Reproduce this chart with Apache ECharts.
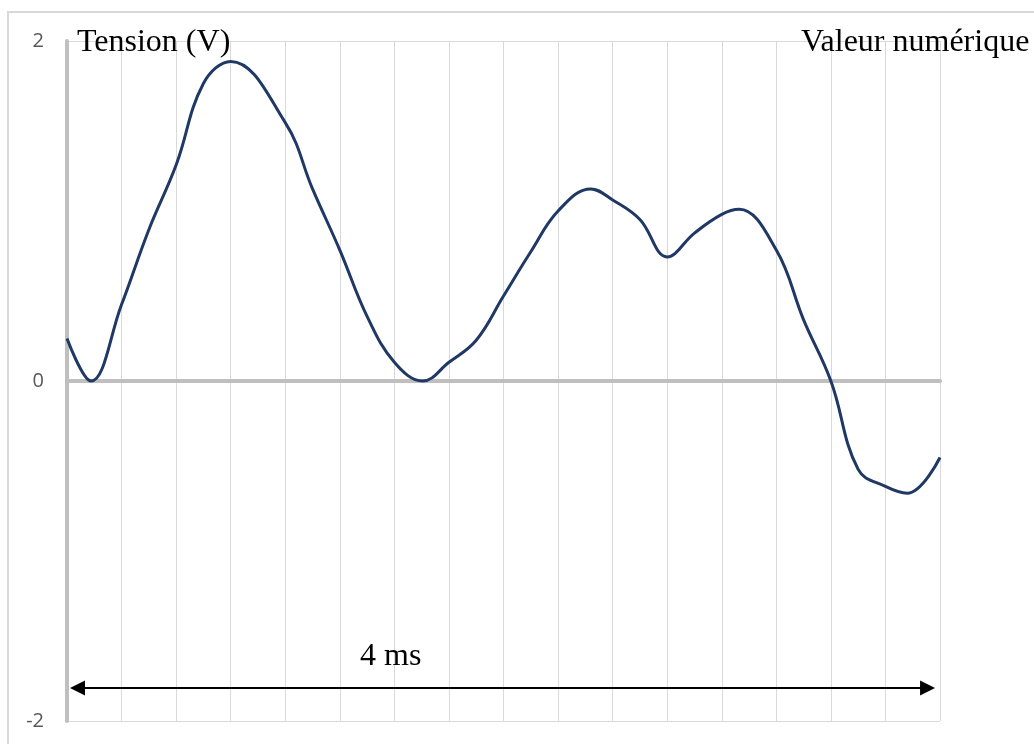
<!DOCTYPE html>
<html>
<head>
<meta charset="utf-8">
<script src="https://cdn.jsdelivr.net/npm/echarts@6/dist/echarts.min.js"></script>
<style>
html,body{margin:0;padding:0;background:#fff;}
#chart{width:1034px;height:744px;}
</style>
</head>
<body>
<div id="chart"></div>
<script>
// time in ms
const times = [0, 0.11, 0.25, 0.375, 0.5, 0.625, 0.75, 1.0, 1.125, 1.25, 1.375, 1.5, 1.63, 1.75, 1.875, 2.0, 2.125, 2.25, 2.4, 2.5, 2.625, 2.75, 2.875, 3.0, 3.08, 3.25, 3.375, 3.5, 3.625, 3.75, 3.85, 4.0];
// voltage in V
const values = [0.25, 0.0, 0.45, 0.89, 1.27, 1.75, 1.88, 1.52, 1.13, 0.77, 0.38, 0.11, 0.0, 0.11, 0.24, 0.50, 0.76, 1.0, 1.13, 1.065, 0.95, 0.73, 0.87, 0.98, 1.01, 0.77, 0.36, 0.0, -0.52, -0.62, -0.66, -0.45];
const yTicks = [-2, 0, 2];
const yTitle = 'Tension (V)';
const xTitle = 'Valeur numérique';
const spanLabel = '4 ms';
// duration arrow (data units)
const arrowStart = [0.048, -1.806];
const arrowEnd = [3.943, -1.806];

const chart = echarts.init(document.getElementById('chart'));
const serif = '"Liberation Serif", "Times New Roman", serif';
chart.setOption({
  animation: false,
  grid: {left: 67, right: 94, top: 41, bottom: 23},
  xAxis: {
    type: 'value', min: 0, max: 4, interval: 0.25,
    axisLine: {onZero: true, lineStyle: {color: '#bfbfbf', width: 4}},
    axisTick: {show: false},
    axisLabel: {show: false},
    splitLine: {show: true, lineStyle: {color: '#d9d9d9', width: 1}}
  },
  yAxis: {
    type: 'value', min: yTicks[0], max: yTicks[2], interval: 2,
    axisLine: {show: true, onZero: false, lineStyle: {color: '#bfbfbf', width: 4}},
    axisTick: {show: false},
    axisLabel: {color: '#595959', fontSize: 20, fontFamily: '"Open Sans", sans-serif', margin: 23},
    splitLine: {show: true, lineStyle: {color: '#d9d9d9', width: 1}}
  },
  series: [{
    type: 'line',
    data: times.map((t, i) => [t, values[i]]),
    smooth: 0.4,
    showSymbol: false,
    lineStyle: {color: '#1f3864', width: 3},
    z: 5,
    markLine: {
      silent: true,
      symbol: ['triangle', 'triangle'],
      symbolSize: [15, 15],
      label: {show: false},
      lineStyle: {color: '#000', width: 2.2, type: 'solid'},
      data: [[{coord: arrowStart}, {coord: arrowEnd}]]
    }
  }],
  graphic: [
    {type: 'rect', shape: {x: 8, y: 12, width: 1040, height: 750}, style: {fill: 'none', stroke: '#d9d9d9', lineWidth: 2}, silent: true, z: -10},
    {type: 'text', left: 77, top: 27, style: {text: yTitle, font: '32px ' + serif, fill: '#000'}, z: 20},
    {type: 'text', left: 801, top: 27, style: {text: xTitle, font: '32px ' + serif, fill: '#000'}, z: 20},
    {type: 'text', left: 360, top: 641, style: {text: spanLabel, font: '32px ' + serif, fill: '#000'}, z: 20}
  ]
});
</script>
</body>
</html>
